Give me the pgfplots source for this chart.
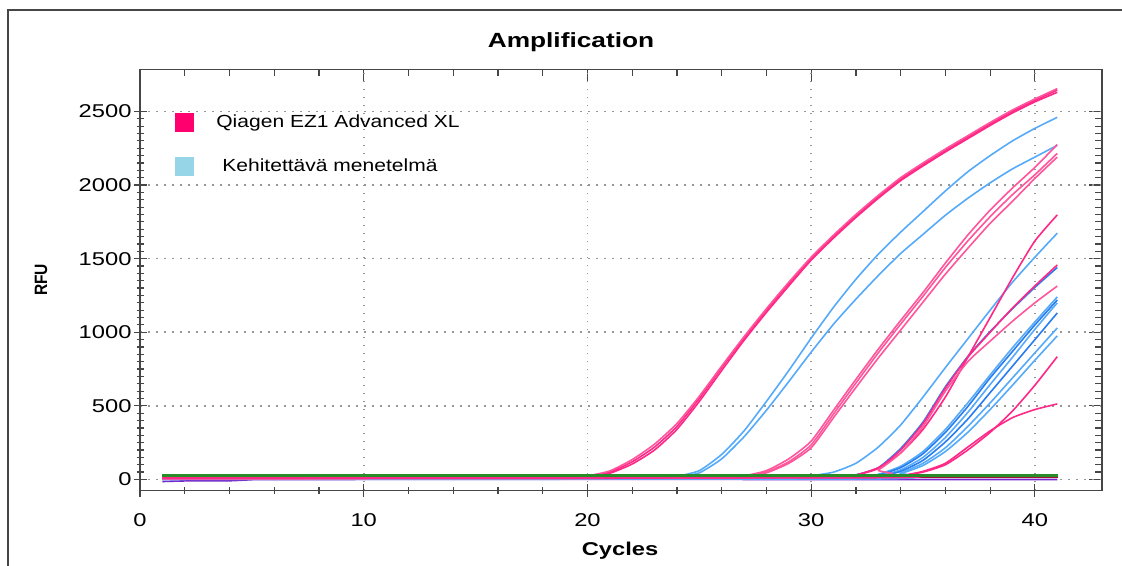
\documentclass[border=0pt]{standalone}
\usepackage{fontspec}
\setmainfont[FakeStretch=1.28]{Liberation Sans}
\newfontfamily\legfont[FakeStretch=1.2]{Liberation Sans}
\newfontfamily\plainfont{Liberation Sans}
\usepackage{pgfplots}
\pgfplotsset{compat=1.18}

\definecolor{pinkA}{RGB}{255,40,135}
\definecolor{pinkB}{RGB}{255,85,155}
\definecolor{blueA}{RGB}{85,170,250}
\definecolor{blueB}{RGB}{40,125,240}
\definecolor{legpink}{RGB}{255,0,110}
\definecolor{legblue}{RGB}{150,212,232}
\definecolor{ctrlgreen}{RGB}{40,140,40}
\definecolor{ctrlred}{RGB}{165,20,55}
\definecolor{ctrlpurple}{RGB}{120,40,200}
\definecolor{gridgray}{RGB}{150,150,150}
\definecolor{axisgray}{RGB}{70,70,70}

\pgfplotsset{
  frame/.style={
    at={(70bp,37.75bp)}, anchor=south west,
    width=481bp, height=210.5bp, scale only axis,
    xmin=0, xmax=43, ymin=-75, ymax=2785,
    xtick={0,10,20,30,40}, minor x tick num=4,
    ytick={0,500,1000,1500,2000,2500}, minor y tick num=9,
    axis line style={axisgray, line width=0.8bp},
    tick style={axisgray, line width=0.6bp},
    major tick length=6.5bp, minor tick length=3.5bp,
  },
  curve/.style={line width=0.8bp, smooth, tension=0.35, forget plot},
}

\begin{document}
\begin{tikzpicture}
\useasboundingbox (0,0) rectangle (561bp,283bp);
% panel border
\draw[line width=1bp, color=axisgray] (4bp,0) -- (4bp,278bp) -- (561bp,278bp);

% tick marks on the upper and right edges
\begin{axis}[frame,
  xtick pos=right, ytick pos=right, tick align=inside,
  xticklabels={}, yticklabels={}]
\end{axis}

\begin{axis}[frame,
  xtick pos=left, ytick pos=left, tick align=center,
  grid=major,
  major grid style={gridgray, line width=0.8bp, dash pattern=on 0.9bp off 3.1bp},
  ticklabel style={font=\fontsize{9.3}{11}\selectfont, text=black},
  yticklabel style={xshift=2.5bp},
  xticklabel style={yshift=-5bp},
  /pgf/number format/assume math mode=true,
  /pgf/number format/1000 sep={},
  scaled y ticks=false,
  legend style={at={(axis cs:1.296,2517)}, anchor=north west, draw=none, fill=none,
    font=\legfont\fontsize{8.8}{10}\selectfont,
    nodes={inner sep=0pt, text height=7bp, text depth=2bp},
    column sep=11bp, row sep=12.1bp},
  legend cell align=left,
  legend image code/.code={\fill[#1] (0bp,-4.75bp) rectangle (9.5bp,4.75bp);},
]
\addlegendimage{fill=legpink, draw=none}
\addlegendentry{Qiagen EZ1 Advanced XL}
\addlegendimage{fill=legblue, draw=none}
\addlegendentry{\hspace*{3bp}Kehitettävä menetelmä}

% baselines of the negative samples
\addplot[curve, ctrlred, line width=1bp] coordinates {(1,15) (41,15)};
\addplot[curve, ctrlpurple] coordinates {(1,-14) (2,-10) (3,-9) (4,-9) (5,-2) (6,0) (41,0)};

% Kehitettava menetelma, early pair
\addplot[curve, blueA] coordinates {(1,8) (23,12) (24,22) (25,60) (26,170) (27,330) (28,530) (29,740) (30,960) (31,1170) (32,1360) (33,1530) (34,1680) (35,1820) (36,1960) (37,2090) (38,2200) (39,2300) (40,2385) (41,2460)};
\addplot[curve, blueA] coordinates {(1,4) (23,8) (24,15) (25,45) (26,140) (27,290) (28,470) (29,665) (30,865) (31,1055) (32,1225) (33,1385) (34,1535) (35,1665) (36,1795) (37,1910) (38,2015) (39,2110) (40,2190) (41,2270)};
% Kehitettava menetelma, late group
\addplot[curve, blueA] coordinates {(1,5) (29,10) (30,25) (31,50) (32,110) (33,220) (34,370) (35,560) (36,760) (37,955) (38,1150) (39,1340) (40,1510) (41,1673)};
\addplot[curve, blueB] coordinates {(1,8) (31,15) (32,32) (33,80) (34,210) (35,390) (36,630) (37,835) (38,1005) (39,1160) (40,1305) (41,1440)};
\addplot[curve, blueA] coordinates {(1,6) (32,14) (33,35) (34,90) (35,190) (36,340) (37,520) (38,710) (39,895) (40,1070) (41,1240)};
\addplot[curve, blueB] coordinates {(1,3) (32,10) (33,30) (34,80) (35,175) (36,320) (37,495) (38,690) (39,870) (40,1050) (41,1219)};
\addplot[curve, blueA] coordinates {(1,2) (32,8) (33,25) (34,65) (35,150) (36,285) (37,455) (38,645) (39,830) (40,1020) (41,1200)};
\addplot[curve, blueB] coordinates {(1,5) (32,8) (33,20) (34,55) (35,130) (36,255) (37,410) (38,590) (39,770) (40,950) (41,1131)};
\addplot[curve, blueA] coordinates {(1,0) (33,6) (34,45) (35,110) (36,215) (37,360) (38,520) (39,690) (40,860) (41,1029)};
\addplot[curve, blueA] coordinates {(1,2) (33,5) (34,40) (35,95) (36,190) (37,320) (38,475) (39,640) (40,810) (41,975)};

% Qiagen EZ1 Advanced XL, early group
\addplot[curve, pinkA] coordinates {(1,12) (19,14) (20,22) (21,50) (22,120) (23,220) (24,360) (25,550) (26,760) (27,960) (28,1150) (29,1330) (30,1500) (31,1650) (32,1790) (33,1920) (34,2040) (35,2140) (36,2235) (37,2325) (38,2415) (39,2500) (40,2575) (41,2645)};
\addplot[curve, pinkA] coordinates {(1,10) (19,12) (20,18) (21,42) (22,105) (23,200) (24,340) (25,530) (26,740) (27,945) (28,1135) (29,1315) (30,1490) (31,1640) (32,1780) (33,1910) (34,2030) (35,2130) (36,2225) (37,2315) (38,2405) (39,2490) (40,2565) (41,2630)};
\addplot[curve, pinkB] coordinates {(1,8) (19,14) (20,25) (21,58) (22,135) (23,240) (24,380) (25,565) (26,770) (27,970) (28,1160) (29,1340) (30,1510) (31,1660) (32,1800) (33,1930) (34,2050) (35,2150) (36,2245) (37,2335) (38,2425) (39,2510) (40,2585) (41,2655)};
% Qiagen EZ1 Advanced XL, middle group
\addplot[curve, pinkB] coordinates {(1,10) (26,14) (27,25) (28,60) (29,140) (30,260) (31,470) (32,680) (33,885) (34,1080) (35,1270) (36,1470) (37,1660) (38,1830) (39,1980) (40,2120) (41,2275)};
\addplot[curve, pinkB] coordinates {(1,6) (26,10) (27,20) (28,50) (29,120) (30,235) (31,445) (32,655) (33,860) (34,1055) (35,1245) (36,1440) (37,1620) (38,1785) (39,1935) (40,2070) (41,2215)};
\addplot[curve, pinkB] coordinates {(1,4) (26,8) (27,18) (28,45) (29,110) (30,215) (31,420) (32,625) (33,825) (34,1015) (35,1205) (36,1395) (37,1570) (38,1740) (39,1890) (40,2045) (41,2190)};
% Qiagen EZ1 Advanced XL, late group
\addplot[curve, pinkA] coordinates {(1,12) (31,15) (32,30) (33,80) (34,180) (35,340) (36,560) (37,830) (38,1100) (39,1370) (40,1620) (41,1797)};
\addplot[curve, pinkA] coordinates {(1,10) (31,14) (32,30) (33,75) (34,200) (35,380) (36,620) (37,830) (38,1000) (39,1165) (40,1315) (41,1457)};
\addplot[curve, pinkB] coordinates {(1,10) (32,25) (33,65) (34,180) (35,360) (36,600) (37,800) (38,940) (39,1075) (40,1200) (41,1314)};
\addplot[curve, pinkA] coordinates {(1,12) (33,15) (34,25) (35,50) (36,100) (37,200) (38,320) (39,465) (40,640) (41,834)};
\addplot[curve, pinkA] coordinates {(1,8) (33,12) (34,25) (35,55) (36,110) (37,220) (38,330) (39,420) (40,475) (41,513)};

% threshold-level control line
\addplot[curve, ctrlgreen, line width=1.3bp] coordinates {(1,27) (41,27)};
\end{axis}

\node[anchor=base, font=\bfseries\fontsize{10.3}{12}\selectfont] at (285.5bp,259.4bp) {Amplification};
\node[anchor=base, font=\bfseries\fontsize{9.3}{11}\selectfont] at (310bp,5.5bp) {Cycles};
\node[rotate=90, font=\plainfont\bfseries\fontsize{7.8}{9}\selectfont] at (20.5bp,143bp) {\scalebox{1}[1.15]{RFU}};
\end{tikzpicture}
\end{document}
